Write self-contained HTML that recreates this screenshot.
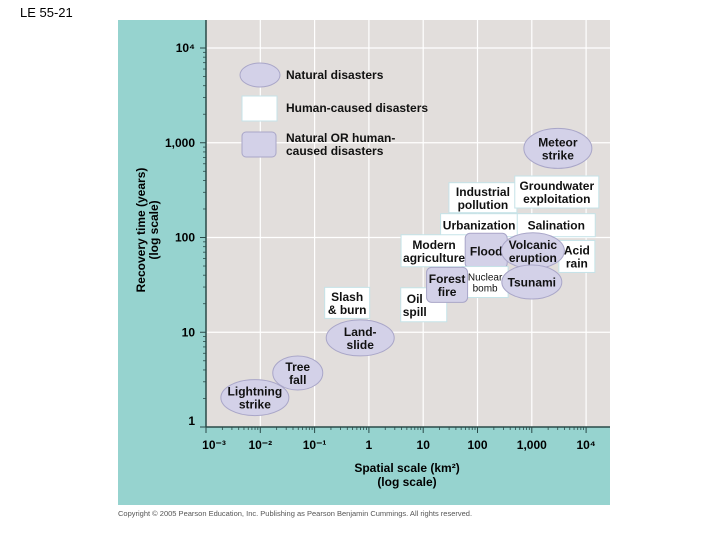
<!DOCTYPE html>
<html><head><meta charset="utf-8"><style>
body{margin:0;width:720px;height:540px;background:#fff;overflow:hidden;font-family:"Liberation Sans",sans-serif}
svg{position:absolute;left:0;top:0}
text{font-family:"Liberation Sans",sans-serif}
</style></head><body>
<svg id="c" width="720" height="540">
<text x="20" y="17" font-size="13" fill="#000">LE 55-21</text>
<rect x="118" y="20" width="492" height="485" fill="#96d3cf"/>
<rect x="206" y="20" width="404" height="407" fill="#e2dedc"/>
<g id="grid"></g><g id="axes"></g><g id="marks"></g>
<g>
<ellipse cx="260" cy="75" rx="20" ry="12" fill="#d3d1e8" stroke="#a9a6c8"/>
<text x="286" y="79" font-size="12" font-weight="bold" fill="#111">Natural disasters</text>
<rect x="242" y="96" width="35" height="25" fill="#fff" stroke="#c5e3e8"/>
<text x="286" y="112" font-size="12" font-weight="bold" fill="#111">Human-caused disasters</text>
<rect x="242" y="132" width="34" height="25" rx="4" fill="#d3d1e8" stroke="#a9a6c8"/>
<text x="286" y="142" font-size="12" font-weight="bold" fill="#111">Natural OR human-</text>
<text x="286" y="155" font-size="12" font-weight="bold" fill="#111">caused disasters</text>
</g>
<g transform="translate(145,230) rotate(-90)">
<text x="0" y="0" text-anchor="middle" font-size="12" font-weight="bold">Recovery time (years)</text>
<text x="0" y="13" text-anchor="middle" font-size="12" font-weight="bold">(log scale)</text>
</g>
<g>
<text x="407" y="472" text-anchor="middle" font-size="12" font-weight="bold">Spatial scale (km²)</text>
<text x="407" y="486" text-anchor="middle" font-size="12" font-weight="bold">(log scale)</text>
</g>
<text x="118" y="516" font-size="7.5" fill="#555">Copyright © 2005 Pearson Education, Inc. Publishing as Pearson Benjamin Cummings. All rights reserved.</text>
</svg>
<script>
const xTickLabels=["10⁻³","10⁻²","10⁻¹","1","10","100","1,000","10⁴"];
const yTickLabels=["1","10","100","1,000","10⁴"];
const labels=["Meteor|strike","Industrial|pollution","Groundwater|exploitation","Urbanization","Salination","Modern|agriculture","Acid|rain","Flood","Volcanic|eruption","Nuclear|bomb","Tsunami","Oil|spill","Forest|fire","Slash|& burn","Land-|slide","Tree|fall","Lightning|strike"];
const logArea=[3.48,2.10,3.46,2.03,3.45,1.20,3.83,2.16,3.02,2.14,3.00,1.01,1.44,-0.40,-0.16,-1.31,-2.10];
const logTime=[2.94,2.42,2.48,2.13,2.13,1.86,1.80,1.86,1.86,1.53,1.53,1.29,1.50,1.31,0.94,0.57,0.31];
const kinds=["n","h","h","h","h","h","h","b","n","h","n","h","b","h","n","n","n"];
const boxW=[68,68,84,77,78,66,36,42,63,46,60,46,41,45,68,50,68];
const boxH=[40,30,32,23,23,32,32,35,36,31,34,34,35,31,36,34,36];
const textDx=[0,0,0,0,0,0,0,0,0,0,0,-9,0,0,0,0,0];
const NS="http://www.w3.org/2000/svg";
const X=v=>206+(v+3)*54.3, Y=v=>427-v*94.75;
function mk(t,a,p){const e=document.createElementNS(NS,t);for(const k in a)e.setAttribute(k,a[k]);p.appendChild(e);return e;}
const grid=document.getElementById('grid'),axes=document.getElementById('axes'),marks=document.getElementById('marks');
for(let i=1;i<8;i++){const l=mk('line',{x1:X(i-3),x2:X(i-3),y1:20,y2:427,stroke:'#fff','stroke-width':1.2},grid);}
for(let i=1;i<5;i++){const l=mk('line',{x1:206,x2:610,y1:Y(i),y2:Y(i),stroke:'#fff','stroke-width':1.2},grid);}
let a=mk('line',{x1:206,x2:206,y1:20,y2:427,stroke:'#2a4a48','stroke-width':1.5},axes);
a=mk('line',{x1:206,x2:610,y1:427,y2:427,stroke:'#2a4a48','stroke-width':1.5},axes);
xTickLabels.forEach((s,i)=>{const v=i-3;const px=X(v);
 mk('line',{x1:px,x2:px,y1:427,y2:433,stroke:'#2a4a48'},axes);
 if(i<7)for(let m=2;m<10;m++){const q=X(v+Math.log10(m));mk('line',{x1:q,x2:q,y1:427,y2:430,stroke:'#2a4a48','stroke-width':.8},axes);}
 const t=mk('text',{x:px+(i==0?8:0),y:449,'text-anchor':'middle','font-size':12,'font-weight':'bold'},axes);t.textContent=s;
 });
yTickLabels.forEach((s,i)=>{const py=Y(i);
 mk('line',{x1:200,x2:206,y1:py,y2:py,stroke:'#2a4a48'},axes);
 if(i<4)for(let m=2;m<10;m++){const q=Y(i+Math.log10(m));mk('line',{x1:203,x2:206,y1:q,y2:q,stroke:'#2a4a48','stroke-width':.8},axes);}
 const t=mk('text',{x:195,y:py+4-(i==0?6:0),'text-anchor':'end','font-size':12,'font-weight':'bold'},axes);t.textContent=s;
 });
labels.forEach((lab,i)=>{const cx=X(logArea[i]),cy=Y(logTime[i]),w=boxW[i],h=boxH[i];
 const g=mk('g',{},marks);
 
 
 if(kinds[i]=='n')mk('ellipse',{cx:cx,cy:cy,rx:w/2,ry:h/2,fill:'#d3d1e8',stroke:'#a9a6c8'},g);
 else if(kinds[i]=='h')mk('rect',{x:cx-w/2,y:cy-h/2,width:w,height:h,fill:'#fff',stroke:'#c5e3e8'},g);
 else mk('rect',{x:cx-w/2,y:cy-h/2,width:w,height:h,rx:5,fill:'#d3d1e8',stroke:'#a9a6c8'},g);
 const parts=lab.split('|');const small=lab.startsWith('Nuclear');const fs=small?10:12;
 parts.forEach((p,k)=>{const t=mk('text',{x:cx+textDx[i],y:cy+fs*0.38+(k-(parts.length-1)/2)*(fs+1),'text-anchor':'middle','font-size':fs,'font-weight':small?'normal':'bold',fill:'#111'},g);t.textContent=p;});
});
</script>
</body></html>
